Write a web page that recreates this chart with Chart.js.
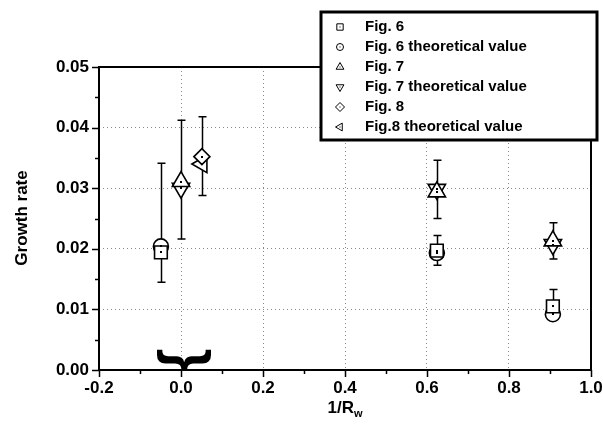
<!DOCTYPE html>
<html lang="en">
<head>
    <meta charset="UTF-8">
    <title>Growth rate vs 1/Rw</title>
    <script src="https://cdn.jsdelivr.net/npm/chart.js"></script>
    <style>
        body { margin: 0; background: #fff; }
        #chart { display: block; }
    </style>
</head>
<body>
    <canvas id="chart" width="603" height="435"></canvas>

    <script>
        // values
        const fig6X = [-0.049, 0.624, 0.907];
        const fig6Y = [0.0194, 0.0197, 0.0105];
        const fig6Lo = [0.0145, 0.0173, 0.0093];
        const fig6Hi = [0.0341, 0.0222, 0.0133];
        const fig6TheoY = [0.0204, 0.0193, 0.0092];

        const fig7X = [0.0, 0.624, 0.907];
        const fig7Y = [0.0311, 0.0294, 0.0213];
        const fig7Lo = [0.0216, 0.0250, 0.0183];
        const fig7Hi = [0.0412, 0.0346, 0.0243];
        const fig7TheoY = [0.0300, 0.0298, 0.0207];

        const fig8X = [0.051];
        const fig8Y = [0.0352];
        const fig8Lo = [0.0288];
        const fig8Hi = [0.0418];
        const fig8TheoY = [0.0340];

        const xTicks = [-0.2, 0.0, 0.2, 0.4, 0.6, 0.8, 1.0];
        const yTicks = [0.00, 0.01, 0.02, 0.03, 0.04, 0.05];

        const FONT = '"Liberation Sans", Arial, sans-serif';

        function pts(xs, ys) {
            return xs.map((x, i) => ({ x: x, y: ys[i] }));
        }

        function series(label, xs, ys, style, rot, radius, lo, hi) {
            return {
                label: label,
                data: pts(xs, ys),
                pointStyle: style,
                rotation: rot,
                pointRadius: radius,
                pointHoverRadius: radius,
                borderColor: '#000',
                backgroundColor: '#fff',
                pointBorderWidth: 1.6,
                showLine: false,
                errLo: lo,
                errHi: hi
            };
        }

        const datasets = [
            series('Fig. 6', fig6X, fig6Y, 'rect', 0, 9, fig6Lo, fig6Hi),
            series('Fig. 6 theoretical value', fig6X, fig6TheoY, 'circle', 0, 7.5),
            series('Fig. 7', fig7X, fig7Y, 'triangle', 0, 10, fig7Lo, fig7Hi),
            series('Fig. 7 theoretical value', fig7X, fig7TheoY, 'triangle', 180, 10),
            series('Fig. 8', fig8X, fig8Y, 'rectRot', 0, 8, fig8Lo, fig8Hi),
            series('Fig.8 theoretical value', fig8X, fig8TheoY, 'triangle', 270, 10)
        ];

        // error bars go under the markers
        const errorBars = {
            id: 'errorBars',
            beforeDatasetsDraw(chart) {
                const ctx = chart.ctx;
                const xs = chart.scales.x, ys = chart.scales.y;
                ctx.save();
                ctx.strokeStyle = '#000';
                ctx.lineWidth = 1.5;
                chart.data.datasets.forEach(ds => {
                    if (!ds.errLo) return;
                    ds.data.forEach((p, i) => {
                        const px = Math.round(xs.getPixelForValue(p.x)) + 0.5;
                        const top = ys.getPixelForValue(ds.errHi[i]);
                        const bot = ys.getPixelForValue(ds.errLo[i]);
                        ctx.beginPath();
                        ctx.moveTo(px, top); ctx.lineTo(px, bot);
                        ctx.moveTo(px - 4, top); ctx.lineTo(px + 4, top);
                        ctx.moveTo(px - 4, bot); ctx.lineTo(px + 4, bot);
                        ctx.stroke();
                    });
                });
                ctx.restore();
            },
            afterDatasetsDraw(chart) {
                // small centre dot in every marker
                const ctx = chart.ctx;
                ctx.save();
                ctx.fillStyle = '#000';
                chart.data.datasets.forEach((ds, di) => {
                    chart.getDatasetMeta(di).data.forEach(el => {
                        ctx.fillRect(Math.round(el.x) - 1, Math.round(el.y) - 1, 2, 2);
                    });
                });
                ctx.restore();
            }
        };

        // frame, ticks, labels, legend and the brace
        const decorations = {
            id: 'decorations',
            afterDraw(chart) {
                const ctx = chart.ctx;
                const a = chart.chartArea;
                const xs = chart.scales.x, ys = chart.scales.y;
                ctx.save();

                ctx.strokeStyle = '#000';
                ctx.lineWidth = 2;
                ctx.strokeRect(a.left, a.top, a.right - a.left, a.bottom - a.top);

                // ticks
                ctx.lineWidth = 1.5;
                ctx.beginPath();
                for (let v = -0.2; v <= 1.0001; v += 0.1) {
                    const px = Math.round(xs.getPixelForValue(v)) + 0.5;
                    const major = Math.abs(Math.round(v * 10)) % 2 === 0;
                    ctx.moveTo(px, a.bottom);
                    ctx.lineTo(px, a.bottom + (major ? 7 : 4));
                }
                for (let v = 0; v <= 0.05001; v += 0.005) {
                    const py = Math.round(ys.getPixelForValue(v)) + 0.5;
                    const major = Math.round(v * 1000) % 10 === 0;
                    ctx.moveTo(a.left, py);
                    ctx.lineTo(a.left - (major ? 7 : 4), py);
                }
                ctx.stroke();

                // tick labels
                ctx.fillStyle = '#000';
                ctx.font = 'bold 17px ' + FONT;
                ctx.textAlign = 'center';
                ctx.textBaseline = 'alphabetic';
                xTicks.forEach(v => {
                    ctx.fillText(v.toFixed(1), xs.getPixelForValue(v), 393);
                });
                ctx.textAlign = 'right';
                ctx.textBaseline = 'middle';
                yTicks.forEach(v => {
                    ctx.fillText(v.toFixed(2), a.left - 10, ys.getPixelForValue(v));
                });

                // axis titles
                ctx.save();
                ctx.translate(22, 218);
                ctx.rotate(-Math.PI / 2);
                ctx.textAlign = 'center';
                ctx.textBaseline = 'middle';
                ctx.font = 'bold 17px ' + FONT;
                ctx.fillText('Growth rate', 0, 0);
                ctx.restore();

                ctx.textAlign = 'left';
                ctx.textBaseline = 'alphabetic';
                ctx.font = 'bold 17px ' + FONT;
                const main = '1/R';
                const mw = ctx.measureText(main).width;
                ctx.font = 'bold 11px ' + FONT;
                const sw = ctx.measureText('w').width;
                const tx = 345 - (mw + sw) / 2;
                ctx.font = 'bold 17px ' + FONT;
                ctx.fillText(main, tx, 413);
                ctx.font = 'bold 11px ' + FONT;
                ctx.fillText('w', tx + mw, 417);

                // curly brace under x = 0, rotated so its point faces down
                ctx.save();
                ctx.font = 'bold 58px ' + FONT;
                const m = ctx.measureText('{');
                const u = (m.actualBoundingBoxLeft - m.actualBoundingBoxRight) / 2;
                const w = (m.actualBoundingBoxAscent - m.actualBoundingBoxDescent) / 2;
                ctx.translate(xs.getPixelForValue(0) + 3, 360);
                ctx.rotate(-Math.PI / 2);
                ctx.textAlign = 'left';
                ctx.textBaseline = 'alphabetic';
                ctx.fillText('{', u, w);
                ctx.restore();

                // legend
                const lx = 321, ly = 12, lw = 276, lh = 128;
                ctx.fillStyle = '#fff';
                ctx.fillRect(lx, ly, lw, lh);
                ctx.strokeStyle = '#000';
                ctx.lineWidth = 3;
                ctx.strokeRect(lx, ly, lw, lh);
                ctx.font = 'bold 15px ' + FONT;
                ctx.textAlign = 'left';
                ctx.textBaseline = 'middle';
                chart.data.datasets.forEach((ds, i) => {
                    const cy = 27 + i * 20;
                    ctx.lineWidth = 1;
                    ctx.strokeStyle = '#000';
                    ctx.fillStyle = '#fff';
                    Chart.helpers.drawPoint(ctx, {
                        pointStyle: ds.pointStyle,
                        rotation: ds.rotation,
                        radius: ds.pointStyle === 'circle' ? 3.5 : 4.5,
                        borderWidth: 1
                    }, 340, cy);
                    ctx.fillStyle = '#000';
                    ctx.fillRect(339.5, cy - 0.5, 1, 1);
                    ctx.fillText(ds.label, 365, cy);
                });

                ctx.restore();
            }
        };

        const gridStyle = {
            color: '#8a8a8a',
            lineWidth: 1,
            drawTicks: false
        };

        new Chart(document.getElementById('chart'), {
            type: 'scatter',
            data: { datasets: datasets },
            options: {
                responsive: false,
                animation: false,
                devicePixelRatio: 1,
                layout: { padding: { top: 67, right: 12, left: 0, bottom: 0 } },
                plugins: {
                    legend: { display: false },
                    tooltip: { enabled: false }
                },
                scales: {
                    x: {
                        type: 'linear',
                        min: -0.2,
                        max: 1.0,
                        ticks: { stepSize: 0.2, display: false },
                        grid: gridStyle,
                        border: { display: false, dash: [1, 3] },
                        afterFit(scale) { scale.height = 65; }
                    },
                    y: {
                        type: 'linear',
                        min: 0,
                        max: 0.05,
                        ticks: { stepSize: 0.01, display: false },
                        grid: gridStyle,
                        border: { display: false, dash: [1, 3] },
                        afterFit(scale) { scale.width = 99; }
                    }
                }
            },
            plugins: [errorBars, decorations]
        });
    </script>
</body>
</html>
